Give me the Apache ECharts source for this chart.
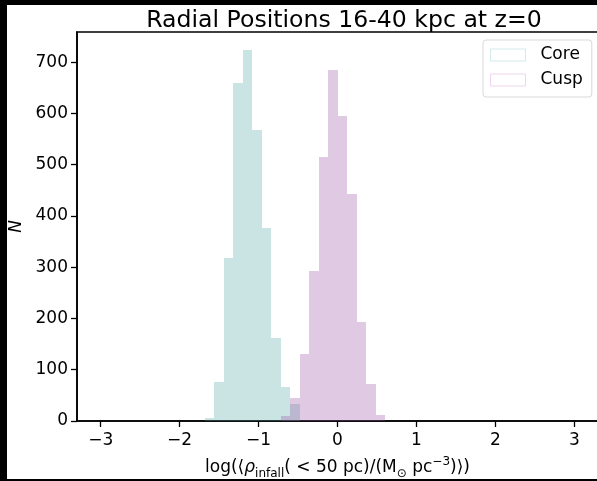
<!DOCTYPE html>
<html>
<head>
<meta charset="utf-8">
<script src="https://cdn.jsdelivr.net/npm/echarts@6/dist/echarts.min.js"></script>
<style>
html,body{margin:0;padding:0;background:#000;overflow:hidden;width:597px;height:481px;}
#chart{position:absolute;left:7px;top:5px;width:593px;height:474px;background:#fff;}
</style>
</head>
<body>
<div id="chart"></div>
<script>
// Histogram bin edges (log density)
const binEdges = [-1.683, -1.5625, -1.442, -1.3215, -1.201, -1.0805, -0.960, -0.8395, -0.719, -0.5985,
                  -0.478, -0.3575, -0.237, -0.1165, 0.004, 0.1245, 0.245, 0.3655, 0.486, 0.6065];
// Counts per bin
const coreCounts = [5, 76, 319, 659, 724, 568, 377, 161, 67, 33, 0, 0, 0, 0, 0, 0, 0, 0, 0];
const cuspCounts = [0, 0, 0, 0, 0, 0, 0, 0, 10, 45, 130, 292, 516, 684, 596, 442, 193, 73, 11];
const seriesNames = ['Core', 'Cusp'];
const xTicks = [-3, -2, -1, 0, 1, 2, 3];
const yTicks = [0, 100, 200, 300, 400, 500, 600, 700];
const titleText = 'Radial Positions 16-40 kpc at z=0';

const coreColor = 'rgba(80,165,165,0.3)';
const cuspColor = 'rgba(152,78,163,0.3)';

function histData(counts) {
  const out = [];
  counts.forEach((c, i) => { if (c > 0) out.push([binEdges[i], binEdges[i + 1], c]); });
  return out;
}
function makeRender(color) {
  return function (params, api) {
    const p0 = api.coord([api.value(0), api.value(2)]);
    const p1 = api.coord([api.value(1), 0]);
    const x0 = Math.round(p0[0]), x1 = Math.round(p1[0]);
    const y0 = Math.round(p0[1]), y1 = Math.round(p1[1]);
    return {
      type: 'rect',
      shape: { x: x0, y: y0, width: x1 - x0, height: y1 - y0 },
      style: { fill: color }
    };
  };
}

const chart = echarts.init(document.getElementById('chart'), null, { renderer: 'canvas' });
const font = 'DejaVu Sans';
chart.setOption({
  animation: false,
  backgroundColor: '#fff',
  title: {
    text: titleText, left: 332, top: -1, textAlign: 'center',
    textStyle: { fontFamily: font, fontSize: 23.6, fontWeight: 'normal', color: '#000' }
  },
  legend: {
    orient: 'vertical', left: 476, top: 35,
    padding: [5, 9, 7, 7], itemGap: 5, itemWidth: 35, itemHeight: 12,
    borderColor: '#d9d9d9', borderWidth: 1, borderRadius: 3, backgroundColor: '#fff',
    textStyle: { fontFamily: font, fontSize: 17, color: '#000', padding: [0, 0, 0, 10], lineHeight: 20 },
    data: [
      { name: seriesNames[0], icon: 'rect', itemStyle: { color: '#fff', borderColor: '#d3eaea', borderWidth: 1 } },
      { name: seriesNames[1], icon: 'rect', itemStyle: { color: '#fff', borderColor: '#efd6f0', borderWidth: 1 } }
    ]
  },
  grid: { left: 70, top: 27, right: 2, bottom: 58, outerBoundsMode: 'none', containLabel: false,
    show: true, borderColor: '#000', borderWidth: 1.6, backgroundColor: 'transparent' },
  xAxis: {
    type: 'value', min: -3.3, max: 3.3,
    name: '{t|log(⟨}{r|ρ}{s|infall}{t|( < 50 pc)/(M}{s|⊙}{t| pc}{u|−3}{t|)⟩)}',
    nameLocation: 'middle', nameGap: 35,
    nameTextStyle: {
      fontFamily: font, fontSize: 17, color: '#000',
      rich: {
        t: { fontFamily: font, fontSize: 17, color: '#000' },
        r: { fontFamily: font, fontSize: 17, color: '#000', fontStyle: 'italic' },
        s: { fontFamily: font, fontSize: 12, color: '#000', verticalAlign: 'bottom', lineHeight: 24 },
        u: { fontFamily: font, fontSize: 12, color: '#000', verticalAlign: 'top', lineHeight: 24 }
      }
    },
    axisLine: { show: true, onZero: false, lineStyle: { color: '#000', width: 1.6 } },
    axisTick: { show: true, length: 6, lineStyle: { color: '#000', width: 1.3 }, customValues: xTicks },
    axisLabel: { show: true, margin: 11, fontFamily: font, fontSize: 17, color: '#000', customValues: xTicks,
      formatter: v => (v < 0 ? '\u2212' + Math.abs(v) : String(v)) },
    splitLine: { show: false }
  },
  yAxis: {
    type: 'value', min: 0, max: 759,
    name: 'N', nameLocation: 'middle', nameGap: 46, nameRotate: 90,
    nameTextStyle: { fontFamily: font, fontSize: 17, color: '#000', fontStyle: 'italic' },
    axisLine: { show: true, onZero: false, lineStyle: { color: '#000', width: 1.6 } },
    axisTick: { show: true, length: 6, lineStyle: { color: '#000', width: 1.3 }, customValues: yTicks },
    axisLabel: { show: true, margin: 9, fontFamily: font, fontSize: 17, color: '#000', customValues: yTicks },
    splitLine: { show: false }
  },
  series: [
    { name: seriesNames[0], type: 'custom', renderItem: makeRender(coreColor), itemStyle: { color: coreColor },
      encode: { x: [0, 1], y: 2 }, data: histData(coreCounts), z: 2 },
    { name: seriesNames[1], type: 'custom', renderItem: makeRender(cuspColor), itemStyle: { color: cuspColor },
      encode: { x: [0, 1], y: 2 }, data: histData(cuspCounts), z: 3 }
  ]
});
</script>
</body>
</html>
